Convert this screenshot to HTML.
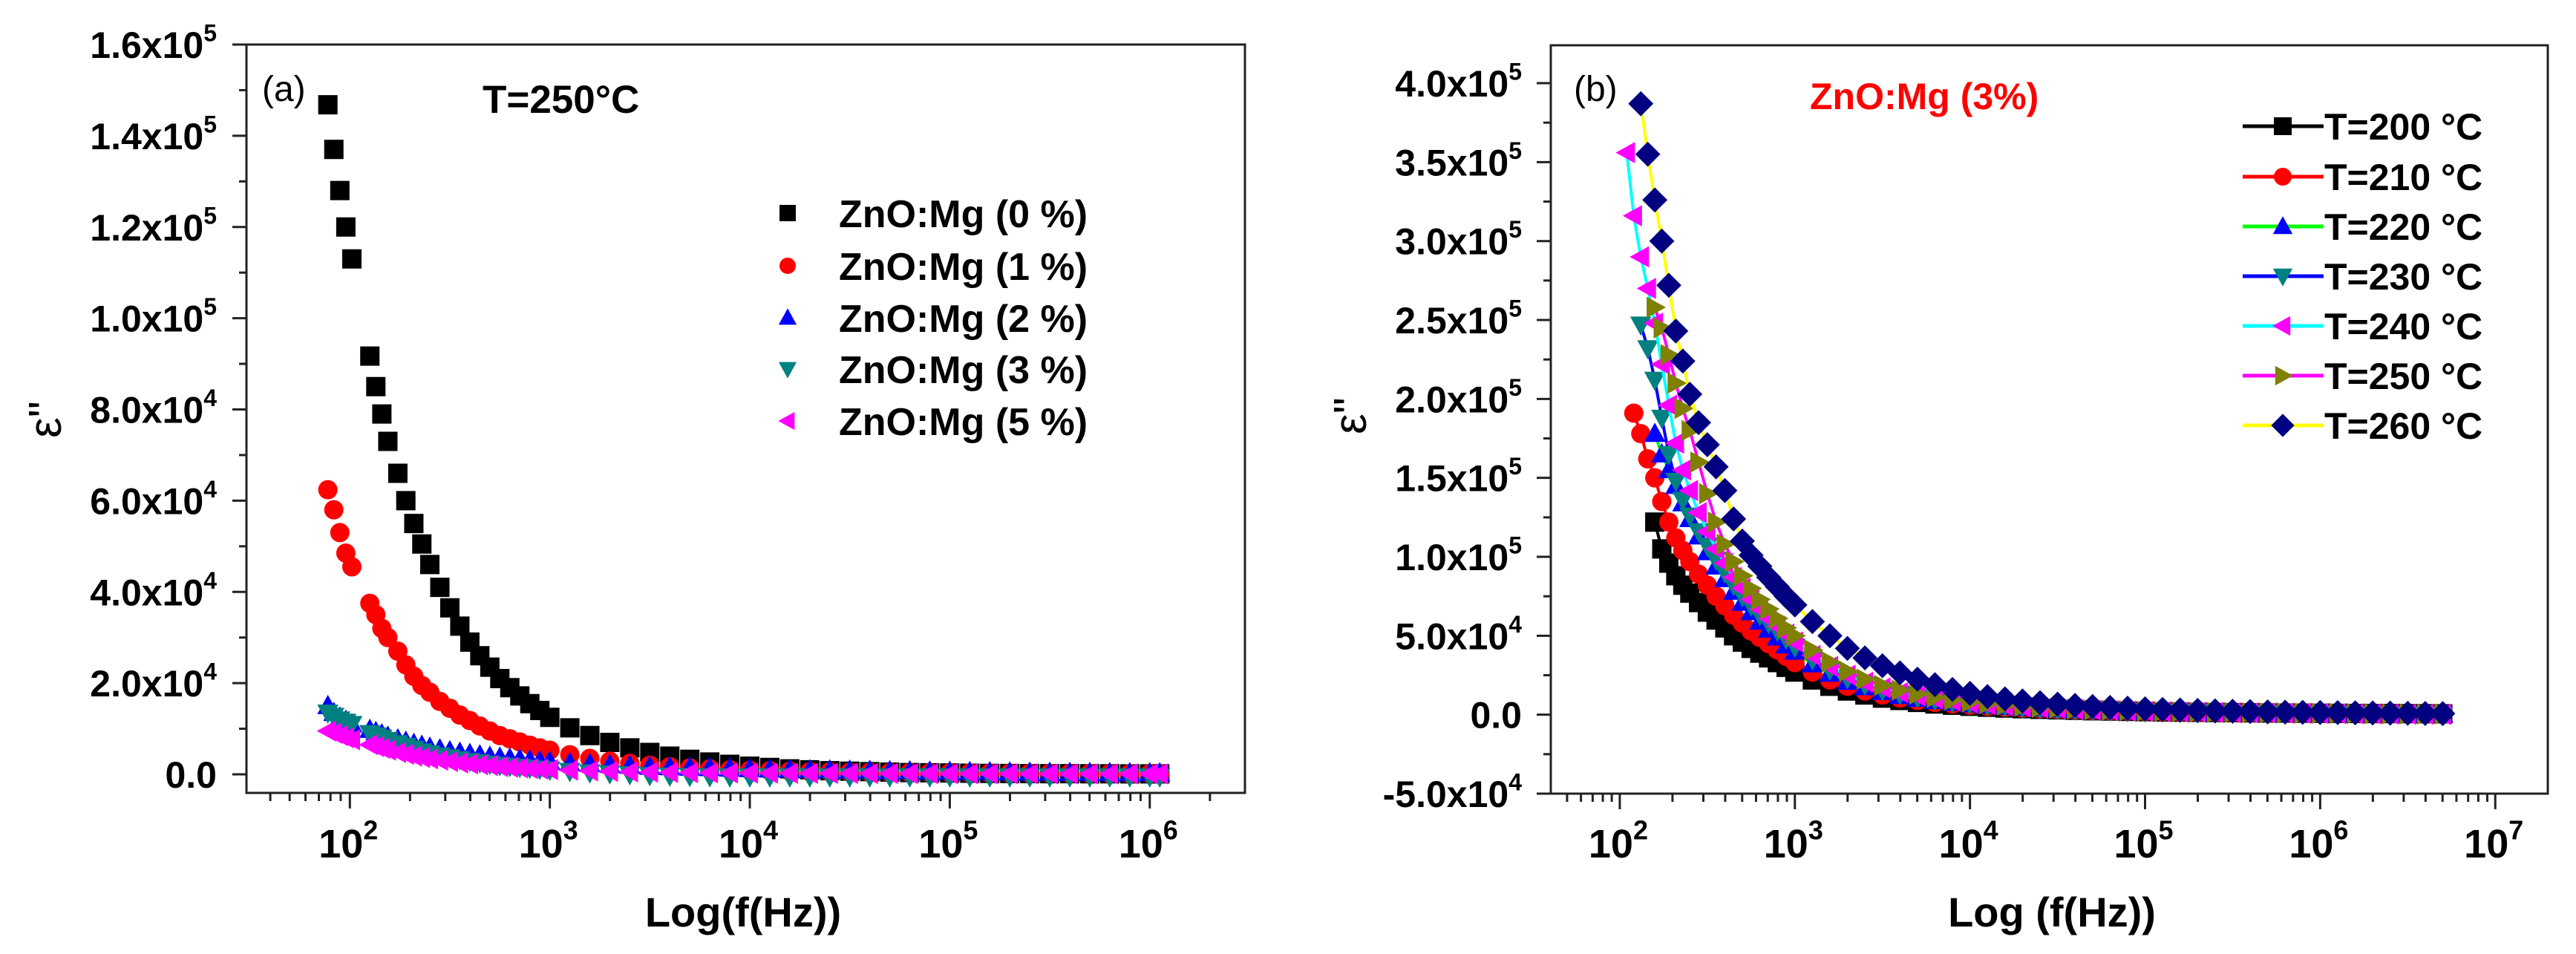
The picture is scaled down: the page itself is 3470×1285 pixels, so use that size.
<!DOCTYPE html>
<html><head><meta charset="utf-8"><style>
html,body{margin:0;padding:0;background:#fff;}
svg{display:block;font-family:"Liberation Sans",Arial,sans-serif;}
</style></head><body>
<svg id="fig" width="3470" height="1285" viewBox="0 0 3470 1285" xmlns="http://www.w3.org/2000/svg">
<defs>
<clipPath id="clipA"><rect x="332" y="60" width="1345" height="1008"/></clipPath>
<clipPath id="clipB"><rect x="2089" y="61" width="1343" height="1008"/></clipPath>
</defs>
<g id="panelA"></g>
<g id="panelB"></g>
</svg>
<script>
// ---------- Panel (a) data (log10 f, epsilon'' in units of 1e3) ----------
const A_LOGF = [1.89,1.92,1.95,1.98,2.01,2.1,2.13,2.16,2.19,2.24,2.28,2.32,2.36,2.4,2.45,2.5,2.55,2.6,2.65,2.7,2.75,2.8,2.85,2.9,2.95,3.0,
3.1,3.2,3.3,3.4,3.5,3.6,3.7,3.8,3.9,4.0,4.1,4.2,4.3,4.4,4.5,4.6,4.7,4.8,4.9,5.0,5.1,5.2,5.3,5.4,5.5,5.6,5.7,5.8,5.9,6.0,6.05];
const A_MG0 = [146.8,137,128,120,113,91.7,85,79,73,66,60,55,50.5,46,41,36.5,32.5,29,26,23.5,21,19,17.2,15.5,14,12.5,
10.2,8.5,7,5.8,4.8,4,3.3,2.7,2.2,1.8,1.5,1.2,1.0,0.8,0.7,0.6,0.5,0.4,0.35,0.3,0.25,0.2,0.18,0.16,0.15,0.14,0.13,0.12,0.11,0.1,0.1];
const A_MG1 = [62.4,58,53,48.5,45.5,37.5,35,32,30,27,24,21.5,19.5,18,16,14.5,13,11.8,10.6,9.5,8.5,7.8,7.1,6.4,5.8,5.3,
4.3,3.5,2.9,2.4,2.0,1.7,1.4,1.2,1.0,0.9,0.8,0.7,0.6,0.55,0.5,0.45,0.4,0.38,0.35,0.33,0.3,0.28,0.26,0.24,0.22,0.2,0.18,0.16,0.15,0.14,0.13];
const A_MG2 = [15,13.5,12.5,11.8,11,9.8,9.3,8.8,8.3,7.7,7.2,6.7,6.3,5.9,5.5,5.1,4.8,4.5,4.2,3.9,3.7,3.5,3.3,3.1,2.9,2.8,
2.5,2.3,2.1,1.9,1.7,1.6,1.5,1.4,1.3,1.2,1.1,1.0,0.95,0.9,0.85,0.8,0.75,0.7,0.65,0.6,0.55,0.5,0.45,0.4,0.38,0.36,0.34,0.32,0.3,0.28,0.26];
const A_MG3 = [13.5,12.8,12,11.5,11,9,8.5,8,7.5,6.8,6.2,5.6,5,4.6,4.1,3.7,3.3,2.9,2.6,2.3,2,1.8,1.6,1.4,1.2,1.0,
0.7,0.4,0.2,0,-0.2,-0.3,-0.4,-0.45,-0.5,-0.5,-0.5,-0.5,-0.5,-0.5,-0.5,-0.5,-0.5,-0.5,-0.5,-0.5,-0.5,-0.5,-0.5,-0.5,-0.5,-0.5,-0.5,-0.5,-0.5,-0.5,-0.5];
const A_MG5 = [9.5,9,8.5,8,7.6,6.5,6.1,5.7,5.3,4.8,4.4,4,3.7,3.4,3.1,2.8,2.5,2.3,2.1,1.9,1.7,1.55,1.4,1.25,1.15,1.05,
0.9,0.75,0.65,0.55,0.48,0.42,0.37,0.33,0.3,0.27,0.25,0.23,0.21,0.2,0.19,0.18,0.17,0.16,0.15,0.14,0.13,0.12,0.11,0.1,0.1,0.1,0.1,0.1,0.1,0.1,0.1];
const A_LEGEND = ["ZnO:Mg (0 %)","ZnO:Mg (1 %)","ZnO:Mg (2 %)","ZnO:Mg (3 %)","ZnO:Mg (5 %)"];
const A_YTICKS = [0,20000,40000,60000,80000,100000,120000,140000,160000];
const A_YLABELS = [["0.0",""],["2.0x10","4"],["4.0x10","4"],["6.0x10","4"],["8.0x10","4"],["1.0x10","5"],["1.2x10","5"],["1.4x10","5"],["1.6x10","5"]];
const A_XTICKS = [2,3,4,5,6];

// ---------- Panel (b) data (log10 f, epsilon'' in units of 1e3) ----------
const B_LOGF = [2.04,2.08,2.12,2.16,2.2,2.24,2.28,2.32,2.36,2.4,2.45,2.5,2.55,2.6,2.65,2.7,2.75,2.8,2.85,2.9,2.95,3.0,
3.1,3.2,3.3,3.4,3.5,3.6,3.7,3.8,3.9,4.0,4.1,4.2,4.3,4.4,4.5,4.6,4.7,4.8,4.9,5.0,5.1,5.2,5.3,5.4,5.5,5.6,5.7,5.8,5.9,6.0,6.1,6.2,6.3,6.4,6.5,6.6,6.7];
const B_T200 = [null,null,null,null,122,105,96,88,82,77,71,65,60,55,50,46,42,39,36,33,30,27,22,18,15,12.5,10.5,9,7.8,6.8,6,5.3,
4.7,4.2,3.8,3.4,3.1,2.8,2.5,2.3,2.1,1.9,1.7,1.6,1.5,1.4,1.3,1.2,1.1,1.0,0.95,0.9,0.85,0.8,0.75,0.7,0.65,0.6,0.55];
const B_T210 = [null,191,178,162,150,135,122,112,104,97,89,82,75,69,63,58,53,49,45,41,37,33,27,22,18,15,12.5,10.5,9,7.8,6.8,6.0,
5.3,4.7,4.2,3.8,3.4,3.1,2.8,2.5,2.3,2.1,1.9,1.75,1.6,1.5,1.4,1.3,1.2,1.1,1.0,0.95,0.9,0.85,0.8,0.75,0.7,0.65,0.6];
const B_T220 = [null,null,null,null,178,165,155,145,134,124,113,103,94,86,78,71,65,59,54,49,44,40,32,26,21,17.5,14.5,12,10.2,8.8,7.6,6.6,
5.8,5.1,4.5,4.0,3.5,3.1,2.8,2.5,2.3,2.1,1.9,1.7,1.6,1.5,1.4,1.3,1.2,1.1,1.0,0.9,0.8,0.7,0.6,0.5,0.4,0.35,0.3];
const B_T230 = [null,null,247,232,212,188,165,148,136,126,116,107,98,90,82,75,69,63,58,53,48,43,35,28.5,23,19,15.5,13,11,9.3,8,7,
6.1,5.4,4.7,4.1,3.6,3.2,2.8,2.5,2.2,2.0,1.8,1.6,1.4,1.3,1.2,1.1,1.0,0.9,0.8,0.7,0.6,0.5,0.4,0.3,0.2,0.1,0.0];
const B_T240 = [356,316,290,270,248,222,196,172,155,142,128,116,105,96,87,80,73,67,61,56,51,46,37.5,30.5,25,20.5,17,14,11.8,10,8.5,7.3,
6.3,5.5,4.8,4.2,3.7,3.3,2.9,2.6,2.3,2.1,1.9,1.7,1.5,1.4,1.3,1.2,1.1,1.0,0.9,0.8,0.7,0.6,0.5,0.4,0.3,0.2,0.1];
const B_T250 = [null,null,null,null,258,245,228,210,194,180,160,140,122,108,97,88,80,73,67,61,55,50,41,33.5,27.5,22.5,18.5,15.5,13,11,9.3,8.0,
6.9,6.0,5.2,4.6,4.0,3.5,3.1,2.8,2.5,2.2,2.0,1.8,1.6,1.5,1.4,1.3,1.2,1.1,1.0,0.9,0.8,0.7,0.6,0.5,0.45,0.4,0.35];
const B_T260 = [null,null,387,355,326,300,272,243,224,203,185,171,157,142,124,110,101,94,87,81,75,69.5,59,50,42,36,31,26.5,22.5,19,16,13.5,
11.5,10,8.7,7.6,6.7,5.9,5.2,4.6,4.1,3.7,3.3,3.0,2.7,2.4,2.2,2.0,1.8,1.6,1.5,1.4,1.3,1.2,1.1,1.0,0.9,0.8,0.7];
const B_LEGEND = ["T=200 °C","T=210 °C","T=220 °C","T=230 °C","T=240 °C","T=250 °C","T=260 °C"];
const B_YTICKS = [-50000,0,50000,100000,150000,200000,250000,300000,350000,400000];
const B_YLABELS = [["-5.0x10","4"],["0.0",""],["5.0x10","4"],["1.0x10","5"],["1.5x10","5"],["2.0x10","5"],["2.5x10","5"],["3.0x10","5"],["3.5x10","5"],["4.0x10","5"]];
const B_XTICKS = [2,3,4,5,6,7];

const NS = "http://www.w3.org/2000/svg";
function mk(tag, attrs, parent){
  const e = document.createElementNS(NS, tag);
  for (const k in attrs) e.setAttribute(k, attrs[k]);
  if (parent) parent.appendChild(e);
  return e;
}
function lin(d0,d1,r0,r1){ return v => r0 + (v-d0)/(d1-d0)*(r1-r0); }

function markerPath(shape, x, y, s){
  switch(shape){
    case "square": return `M${x-s},${y-s}h${2*s}v${2*s}h${-2*s}Z`;
    case "up": return `M${x},${y-s*1.15}L${x+s*1.1},${y+s*0.85}L${x-s*1.1},${y+s*0.85}Z`;
    case "down": return `M${x},${y+s*1.15}L${x+s*1.1},${y-s*0.85}L${x-s*1.1},${y-s*0.85}Z`;
    case "left": return `M${x-s*1.15},${y}L${x+s*0.85},${y-s*1.1}L${x+s*0.85},${y+s*1.1}Z`;
    case "right": return `M${x+s*1.15},${y}L${x-s*0.85},${y-s*1.1}L${x-s*0.85},${y+s*1.1}Z`;
    case "diamond": return `M${x},${y-s*1.3}L${x+s*1.3},${y}L${x},${y+s*1.3}L${x-s*1.3},${y}Z`;
  }
}
function drawMarker(g, shape, x, y, s, color){
  if (shape === "circle") return mk("circle",{cx:x,cy:y,r:s,fill:color},g);
  return mk("path",{d:markerPath(shape,x,y,s),fill:color},g);
}

function supText(g, x, y, base, sup, size, supSize, anchor, name){
  const t = mk("text",{x:x,y:y,"font-size":size,"font-weight":"bold","text-anchor":anchor,fill:"#000"},g);
  
  
  const a = mk("tspan",{},t); a.textContent = base;
  if (sup){ const b = mk("tspan",{dy:-size*0.45,"font-size":supSize},t); b.textContent = sup; }
  return t;
}

function drawAxes(g, cfg){
  const {x0,x1,y0,y1,sx,sy,xt,yt,ylabels,ylabX} = cfg;
  const fr = mk("rect",{x:x0,y:y1,width:x1-x0,height:y0-y1,fill:"none",stroke:"#222","stroke-width":3},g);
  
  
  const xa = mk("g",{},g);
  
  
  const dmin = Math.floor(cfg.xd0), dmax = Math.ceil(cfg.xd1);
  for (let d=dmin; d<=dmax; d++){
    for (let m=1; m<10; m++){
      const lv = d + Math.log10(m);
      if (lv < cfg.xd0 || lv > cfg.xd1) continue;
      const px = sx(lv);
      mk("line",{x1:px,x2:px,y1:y0,y2:y0+(m===1?21:11),stroke:"#222","stroke-width":3},xa);
    }
  }
  xt.forEach(d=>{
    supText(xa, sx(d)-2, 1155, "10", String(d), 54, 36, "middle", "x-tick-label");
  });
  const ya = mk("g",{},g);
  
  
  yt.forEach((v,i)=>{
    const py = sy(v);
    mk("line",{x1:x0,x2:x0-19,y1:py,y2:py,stroke:"#222","stroke-width":3},ya);
    if (i < yt.length-1){
      const pm = sy((v+yt[i+1])/2);
      mk("line",{x1:x0,x2:x0-10,y1:pm,y2:pm,stroke:"#222","stroke-width":3},ya);
    }
    supText(ya, ylabX, py+18, ylabels[i][0], ylabels[i][1], 50, 32, "end", "y-tick-label");
  });
}

function drawScatter(g, clip, sx, sy, logf, vals, shape, color, size, lineColor, name){
  const sg = mk("g",{"clip-path":`url(#${clip})`},g);
  
  
  if (lineColor){
    let d = "";
    logf.forEach((lf,i)=>{
      if (vals[i]===null) return;
      d += (d===""?"M":"L") + sx(lf).toFixed(1) + "," + sy(vals[i]*1000).toFixed(1);
    });
    mk("path",{d:d,fill:"none",stroke:lineColor,"stroke-width":4},sg);
  }
  logf.forEach((lf,i)=>{
    if (vals[i]===null) return;
    const m = drawMarker(sg, shape, sx(lf), sy(vals[i]*1000), size, color);
    
    
  });
}

// ================= Panel A =================
(function(){
  const g = document.getElementById("panelA");
  const cfg = {x0:332,x1:1677,y0:1068,y1:60,xd0:1.483,xd1:6.476,xt:A_XTICKS,yt:A_YTICKS,ylabels:A_YLABELS,ylabX:292};
  cfg.sx = lin(cfg.xd0,cfg.xd1,cfg.x0,cfg.x1);
  cfg.sy = lin(-4065,160000,cfg.y0,cfg.y1);
  drawAxes(g,cfg);
  const series = [[A_MG0,"square","#000000"],[A_MG1,"circle","#ff0000"],[A_MG2,"up","#0000ff"],[A_MG3,"down","#008080"],[A_MG5,"left","#ff00ff"]];
  const names = ["series-mg-0","series-mg-1","series-mg-2","series-mg-3","series-mg-5"];
  series.forEach((s,i)=>drawScatter(g,"clipA",cfg.sx,cfg.sy,A_LOGF,s[0],s[1],s[2],13,null,names[i]));
  const lg = mk("g",{},g);
  
  
  const rows = [287,358,428,497,567];
  series.forEach((s,i)=>{
    drawMarker(lg, s[1], 1061, rows[i], 11, s[2]);
    const t = mk("text",{x:1130,y:rows[i]+19,"font-size":52,"font-weight":"bold",fill:"#000"},lg);
    
    
    t.textContent = A_LEGEND[i];
  });
  let t = mk("text",{x:353,y:136,"font-size":48,fill:"#000"},g);
  
  
  t.textContent = "(a)";
  t = mk("text",{x:650,y:152,"font-size":53,"font-weight":"bold",fill:"#000"},g);
  
  
  t.textContent = "T=250°C";
  t = mk("text",{x:1001,y:1248,"font-size":56,"font-weight":"bold","text-anchor":"middle",fill:"#000"},g);
  
  
  t.textContent = "Log(f(Hz))";
  t = mk("text",{x:0,y:0,"font-size":62,"text-anchor":"middle",fill:"#000",transform:"translate(82,565) rotate(-90)"},g);
  
  
  t.textContent = "ε\"";
})();

// ================= Panel B =================
(function(){
  const g = document.getElementById("panelB");
  const cfg = {x0:2089,x1:3432,y0:1069,y1:61,xd0:1.606,xd1:7.30,xt:B_XTICKS,yt:B_YTICKS,ylabels:B_YLABELS,ylabX:2050};
  cfg.sx = lin(cfg.xd0,cfg.xd1,cfg.x0,cfg.x1);
  cfg.sy = lin(-50000,424000,cfg.y0,cfg.y1);
  drawAxes(g,cfg);
  const series = [[B_T200,"square","#000000","#000000"],[B_T210,"circle","#ff0000","#ff0000"],[B_T220,"up","#0000ff","#00ff00"],
    [B_T230,"down","#008080","#0000ff"],[B_T240,"left","#ff00ff","#00ffff"],[B_T250,"right","#808000","#ff00ff"],[B_T260,"diamond","#000080","#ffff00"]];
  const names = ["series-t200","series-t210","series-t220","series-t230","series-t240","series-t250","series-t260"];
  series.forEach((s,i)=>drawScatter(g,"clipB",cfg.sx,cfg.sy,B_LOGF,s[0],s[1],s[2],13,s[3],names[i]));
  const lg = mk("g",{},g);
  
  
  const rows = [170,238,305,372,439,506,573];
  series.forEach((s,i)=>{
    mk("line",{x1:3021,x2:3130,y1:rows[i],y2:rows[i],stroke:s[3],"stroke-width":5},lg);
    drawMarker(lg, s[1], 3075, rows[i], 12, s[2]);
    const t = mk("text",{x:3131,y:rows[i]+18,"font-size":50,"font-weight":"bold",fill:"#000"},lg);
    
    
    t.textContent = B_LEGEND[i];
  });
  let t = mk("text",{x:2120,y:136,"font-size":48,fill:"#000"},g);
  
  
  t.textContent = "(b)";
  t = mk("text",{x:2438,y:147,"font-size":50,"font-weight":"bold",fill:"#ff0000"},g);
  
  
  t.textContent = "ZnO:Mg (3%)";
  t = mk("text",{x:2764,y:1248,"font-size":56,"font-weight":"bold","text-anchor":"middle",fill:"#000"},g);
  
  
  t.textContent = "Log (f(Hz))";
  t = mk("text",{x:0,y:0,"font-size":62,"text-anchor":"middle",fill:"#000",transform:"translate(1840,560) rotate(-90)"},g);
  
  
  t.textContent = "ε\"";
})();
</script>
</body></html>
